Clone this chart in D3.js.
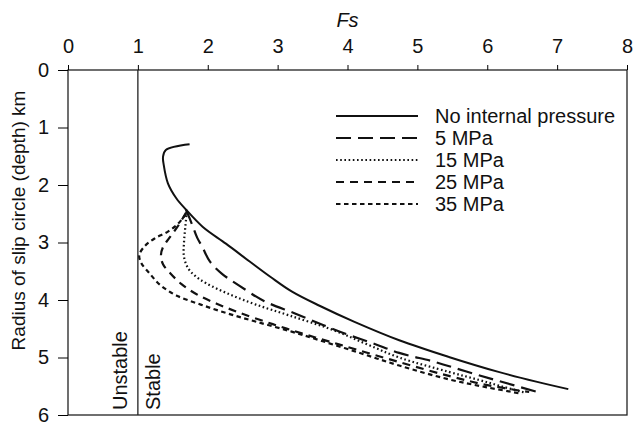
<!DOCTYPE html>
<html>
<head>
<meta charset="utf-8">
<script src="https://cdn.jsdelivr.net/npm/d3@7"></script>
<style>
  html, body { margin: 0; padding: 0; background: #fff; }
  svg text { font-family: "Liberation Sans", Arial, Helvetica, sans-serif; fill: #111; }
</style>
</head>
<body>
<svg id="chart"></svg>
<script>
// Fs vs radius of slip circle (depth, km)
const seriesNames = ["No internal pressure", "5 MPa", "15 MPa", "25 MPa", "35 MPa"];

const noPressure = [
  [1.74, 1.29], [1.40, 1.39], [1.36, 1.51], [1.37, 1.65], [1.43, 1.97], [1.55, 2.23],
  [1.69, 2.43], [1.93, 2.73], [2.26, 3.02], [2.6, 3.33], [2.9, 3.6], [3.2, 3.85],
  [3.6, 4.1], [4.1, 4.38], [4.74, 4.70], [5.45, 4.99], [6.16, 5.25], [6.7, 5.42], [7.16, 5.55]
];
const mpa5 = [
  [1.69, 2.43], [1.78, 2.7], [1.85, 2.92], [1.92, 3.07], [2.03, 3.33], [2.2, 3.54],
  [2.45, 3.75], [2.81, 4.02], [3.24, 4.23], [3.64, 4.43], [4.0, 4.6], [4.38, 4.76],
  [4.74, 4.92], [5.26, 5.08], [5.69, 5.24], [6.14, 5.4], [6.72, 5.6]
];
const mpa15 = [
  [1.70, 2.46], [1.68, 2.72], [1.66, 3.0], [1.66, 3.25], [1.72, 3.45], [1.82, 3.58],
  [1.98, 3.71], [2.31, 3.9], [2.69, 4.08], [3.17, 4.27], [3.79, 4.52], [4.26, 4.76],
  [4.74, 5.0], [5.45, 5.25], [5.88, 5.39], [6.2, 5.5], [6.54, 5.61]
];
const mpa25 = [
  [1.69, 2.48], [1.57, 2.72], [1.45, 2.92], [1.36, 3.08], [1.33, 3.22], [1.36, 3.38],
  [1.46, 3.53], [1.62, 3.72], [1.84, 3.9], [2.12, 4.06], [2.45, 4.22], [2.93, 4.42],
  [3.4, 4.6], [3.9, 4.78], [4.74, 5.08], [5.45, 5.32], [6.0, 5.48], [6.6, 5.6]
];
const mpa35 = [
  [1.69, 2.50], [1.57, 2.68], [1.43, 2.81], [1.24, 2.93], [1.10, 3.06], [1.02, 3.22],
  [1.05, 3.36], [1.17, 3.54], [1.32, 3.74], [1.55, 3.92], [1.9, 4.08], [2.3, 4.24],
  [2.7, 4.38], [3.2, 4.55], [3.6, 4.7], [4.2, 4.93], [4.74, 5.14], [5.45, 5.38],
  [6.0, 5.52], [6.5, 5.63]
];

const xTicks = [0, 1, 2, 3, 4, 5, 6, 7, 8];
const yTicks = [0, 1, 2, 3, 4, 5, 6];
const stableFs = 1;

const W = 635, H = 423;
const margin = { top: 70, right: 8, bottom: 8, left: 68 };

const svg = d3.select("#chart").attr("width", W).attr("height", H);

const x = d3.scaleLinear().domain([0, 8]).range([margin.left, W - margin.right]);
const y = d3.scaleLinear().domain([0, 6]).range([margin.top, H - margin.bottom]);

// frame
svg.append("rect")
  .attr("x", x(0)).attr("y", y(0))
  .attr("width", x(8) - x(0)).attr("height", y(6) - y(0))
  .attr("fill", "none").attr("stroke", "#222").attr("stroke-width", 1.3);

// top axis
const xAxis = svg.append("g")
  .attr("transform", `translate(0,${y(0)})`)
  .call(d3.axisTop(x).tickValues(xTicks).tickSize(5).tickPadding(12).tickFormat(d3.format("d")));
xAxis.select(".domain").remove();
xAxis.selectAll("text").style("font-size", "20px");

// left axis
const yAxis = svg.append("g")
  .attr("transform", `translate(${x(0)},0)`)
  .call(d3.axisLeft(y).tickValues(yTicks).tickSize(10).tickPadding(9).tickFormat(d3.format("d")));
yAxis.select(".domain").remove();
yAxis.selectAll("text").style("font-size", "20px");

svg.append("text")
  .attr("x", x(4)).attr("y", 27)
  .attr("text-anchor", "middle")
  .style("font-size", "20px").style("font-style", "italic")
  .text("Fs");

svg.append("text")
  .attr("transform", `translate(25,${(y(0) + y(6)) / 2 - 22}) rotate(-90)`)
  .attr("text-anchor", "middle")
  .style("font-size", "19px")
  .text("Radius of slip circle (depth) km");

// Fs = 1 boundary
svg.append("line")
  .attr("x1", x(stableFs)).attr("x2", x(stableFs))
  .attr("y1", y(0)).attr("y2", y(6))
  .attr("stroke", "#222").attr("stroke-width", 1.3);

svg.append("text")
  .attr("transform", `translate(${x(stableFs) - 11},${y(6) - 5}) rotate(-90)`)
  .style("font-size", "20px")
  .text("Unstable");
svg.append("text")
  .attr("transform", `translate(${x(stableFs) + 22},${y(6) - 5}) rotate(-90)`)
  .style("font-size", "20px")
  .text("Stable");

// curves
const allSeries = [noPressure, mpa5, mpa15, mpa25, mpa35];
const dashes = [null, "15,7", "1.6,2.6", "8,6", "4.5,3.5"];

const line = d3.line()
  .x(d => x(d[0]))
  .y(d => y(d[1]))
  .curve(d3.curveCatmullRom.alpha(0.5));

svg.append("g").selectAll("path")
  .data(allSeries)
  .enter()
  .append("path")
  .attr("d", line)
  .attr("fill", "none")
  .attr("stroke", "#111")
  .attr("stroke-width", (d, i) => i === 0 ? 2 : 2.2)
  .attr("stroke-dasharray", (d, i) => dashes[i]);

// legend
const legend = svg.append("g");
seriesNames.forEach((name, i) => {
  const ly = 116 + i * 22;
  legend.append("line")
    .attr("x1", 336).attr("x2", 418).attr("y1", ly).attr("y2", ly)
    .attr("stroke", "#111")
    .attr("stroke-width", i === 0 ? 2 : 2.2)
    .attr("stroke-dasharray", dashes[i]);
  legend.append("text")
    .attr("x", 435).attr("y", ly + 7)
    .style("font-size", "20px")
    .text(name);
});
</script>
</body>
</html>
